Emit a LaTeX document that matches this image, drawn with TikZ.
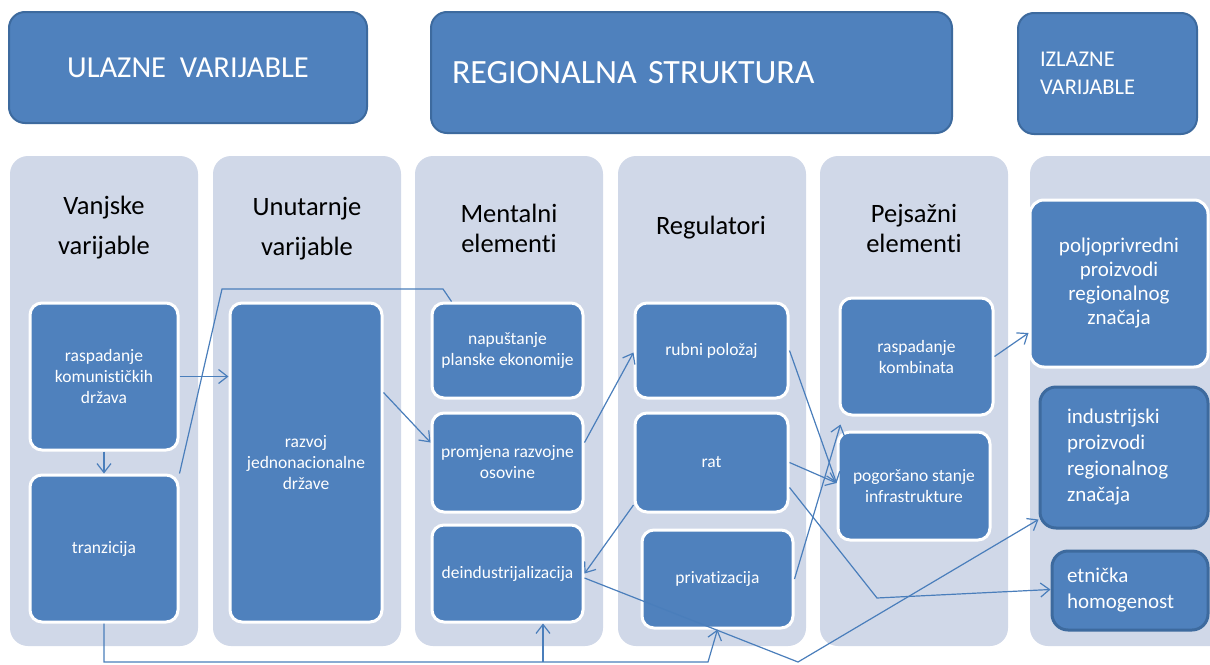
\documentclass[tikz,border=0pt]{standalone}
\usepackage{fontspec}
\setmainfont{Carlito}[Ligatures=NoCommon]
\usetikzlibrary{arrows.meta,calc}
\definecolor{boxblue}{HTML}{4F81BD}
\definecolor{boxedge}{HTML}{3D6A9E}
\definecolor{colbg}{HTML}{D0D8E8}
\definecolor{linkblue}{HTML}{4A7EBB}
\begin{document}
\begin{tikzpicture}[x=1pt,y=-1pt,
  topbox/.style={fill=boxblue, draw=boxedge, line width=2pt, rounded corners=16pt, text=white, inner sep=0pt},
  column/.style={fill=colbg, rounded corners=18pt, inner sep=0pt},
  head/.style={align=center, text=black, inner sep=0pt},
  ibox/.style={fill=boxblue, draw=white, line width=3pt, rounded corners=12pt, text=white, align=center, inner sep=0pt, font=\fontsize{17.5}{21}\selectfont},
  obox/.style={fill=boxblue, draw=white, line width=3pt, rounded corners=14pt, text=white, align=center, inner sep=0pt, font=\fontsize{21}{24}\selectfont},
  dbox/.style={fill=boxblue, draw=boxedge, line width=3pt, rounded corners=16pt, text=white, align=left, font=\fontsize{21}{26}\selectfont},
  ln/.style={draw=linkblue, line width=1.2pt},
  arr/.style={ln, -{Straight Barb[length=9pt,width=14pt]}}
]
\clip (0,0) rectangle (1210,664);
\fill[white] (0,0) rectangle (1210,664);

% top boxes
\node[topbox, minimum width=358, minimum height=111, font=\fontsize{30.5}{36}\selectfont] (ul) at (188,67.5) {ULAZNE\ \ VARIJABLE};
\node[topbox, minimum width=521, minimum height=121, text width=479, inner xsep=21pt, align=left, font=\fontsize{34}{40}\selectfont] (rs) at (691.5,72.5) {\raisebox{-4pt}{REGIONALNA STRUKTURA}};
\node[topbox, minimum width=179, minimum height=121, text width=135, inner xsep=22pt, align=left, font=\fontsize{22.5}{28}\selectfont] (iz) at (1107.5,73.5) {IZLAZNE\\VARIJABLE};

% columns
\node[column, minimum width=188, minimum height=490] (k1) at (104,401) {};
\node[column, minimum width=188, minimum height=490] (k2) at (307,401) {};
\node[column, minimum width=188, minimum height=490] (k3) at (509,401) {};
\node[column, minimum width=188, minimum height=490] (k4) at (712,401) {};
\node[column, minimum width=188, minimum height=490] (k5) at (914,401) {};
\node[column, minimum width=200, minimum height=490] (k6) at (1130,401) {};

% column headers
\node[head, font=\fontsize{26.5}{40}\selectfont] (h1) at (104,228) {Vanjske\\varijable};
\node[head, font=\fontsize{26.5}{40}\selectfont] (h2) at (307,229) {Unutarnje\\varijable};
\node[head, font=\fontsize{26.5}{29.5}\selectfont] (h3) at (509,228.5) {Mentalni\\elementi};
\node[head, font=\fontsize{26.5}{29.5}\selectfont] (h4) at (711,228) {Regulatori};
\node[head, font=\fontsize{26.5}{29.5}\selectfont] (h5) at (914,228.5) {Pejsažni\\elementi};

% inner boxes
\node[ibox, minimum width=148, minimum height=147] (rk) at (104,376.5) {raspadanje\\komunističkih\\država};
\node[ibox, minimum width=148, minimum height=147] (tr) at (104,548.5) {tranzicija};
\node[ibox, minimum width=152, minimum height=319] (rj) at (306,462.5) {razvoj\\jednonacionalne\\države};
\node[ibox, minimum width=151, minimum height=95] (np) at (507.5,350.5) {napuštanje\\planske ekonomije};
\node[ibox, minimum width=151, minimum height=99] (pr) at (507.5,462.5) {promjena razvojne\\osovine};
\node[ibox, minimum width=151, minimum height=97] (de) at (507.5,573.5) {deindustrijalizacija};
\node[ibox, minimum width=153, minimum height=95] (ru) at (711.5,350.5) {rubni položaj};
\node[ibox, minimum width=153, minimum height=99] (ra) at (711.5,462.5) {rat};
\node[ibox, minimum width=151, minimum height=98] (pv) at (717.5,579) {privatizacija};
\node[ibox, minimum width=153, minimum height=117] (rko) at (916.5,356.5) {raspadanje\\kombinata};
\node[ibox, minimum width=152, minimum height=108] (po) at (914,486) {pogoršano stanje\\infrastrukture};
\node[obox, minimum width=178, minimum height=167] (pj) at (1119,283.5) {poljoprivredni\\proizvodi\\regionalnog\\značaja};
\node[dbox, minimum width=168, minimum height=141, text width=114, inner xsep=27pt] (in) at (1124,457.5) {industrijski\\proizvodi\\regionalnog\\značaja};
\node[dbox, minimum width=156, minimum height=79, text width=126, inner xsep=15pt] (et) at (1130,590.5) {etnička\\homogenost};

% helper points
\coordinate (c1) at (222,289);
\coordinate (c2) at (443,289);
\coordinate (c3) at (798,662);
\coordinate (c4) at (104,662);
\coordinate (c5) at (708,662);
\coordinate (c6) at (877,598);
\coordinate (b1) at (543,662);

% connectors
\draw[arr] (rk.east) -- (rk.east -| rj.west);
\draw[arr] (rk.south) -- (tr.north);
\draw[ln] (tr.north east) -- (c1) -- (c2) -- ([xshift=21pt]np.north west);
\draw[arr] ([yshift=70pt]rj.east) -- ([yshift=20pt]pr.west);
\draw[arr] ([yshift=20pt]pr.east) -- ([yshift=-2pt]ru.west);
\draw[arr] ([yshift=-42.5pt]ra.west) -- (de.east);
\draw[arr] ([yshift=-4.5pt]de.east) -- (c3) -- ([yshift=-62pt]in.west);
\draw[arr] (tr.south) -- (c4) -- (c5) -- (pv.south);
\draw[arr] (b1) -- (b1 |- de.south);
\draw[arr] (ru.east) -- ([yshift=3pt]po.west);
\draw[arr] (ra.east) -- ([yshift=3pt]po.west);
\draw[arr] ([yshift=-25pt]ra.east) -- (c6) -- ([yshift=1pt]et.west);
\draw[arr] (pv.east) -- ([xshift=2pt,yshift=-8pt]rko.south west);
\draw[arr] (rko.east) -- ([yshift=-49.5pt]pj.west);
\end{tikzpicture}
\end{document}
